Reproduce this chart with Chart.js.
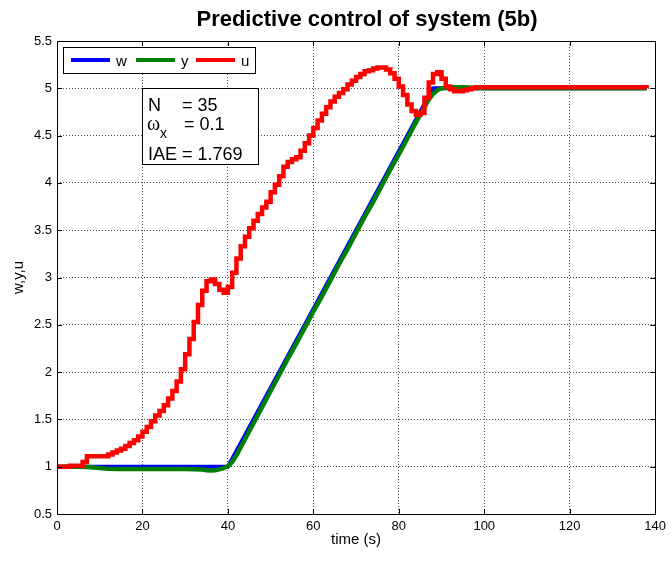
<!DOCTYPE html>
<html>
<head>
<meta charset="utf-8">
<script src="https://cdn.jsdelivr.net/npm/chart.js@4/dist/chart.umd.min.js"></script>
<style>
html,body{margin:0;padding:0;background:#fff;}
#c{display:block;}
</style>
</head>
<body>
<canvas id="c" width="671" height="561"></canvas>
<script>
// ---- data ----
const titleText = 'Predictive control of system (5b)';
const xLabel = 'time (s)';
const yLabel = 'w,y,u';
const seriesNames = ['w', 'y', 'u'];
const xTicks = [0, 20, 40, 60, 80, 100, 120, 140];
const yTicks = [0.5, 1, 1.5, 2, 2.5, 3, 3.5, 4, 4.5, 5, 5.5];

// reference w
const wTime = [0, 40, 88, 138];
const wValue = [1, 1, 5, 5];

// output y
const yTime = [0, 6, 8, 10, 12, 14, 20, 30, 34, 35, 36, 37, 38, 39, 40, 41, 42, 44, 46, 48, 50, 52, 54, 56, 58, 60, 62, 64, 66, 68, 70, 72, 74, 76, 78, 80, 82, 84, 86, 87, 88, 89, 90, 92, 95, 100, 138];
const yValue = [1.0, 1.0, 0.995, 0.985, 0.977, 0.975, 0.975, 0.975, 0.97, 0.963, 0.96, 0.963, 0.972, 0.985, 1.005, 1.05, 1.12, 1.29, 1.46, 1.63, 1.8, 1.97, 2.14, 2.3, 2.47, 2.64, 2.8, 2.97, 3.14, 3.3, 3.47, 3.64, 3.8, 3.97, 4.14, 4.3, 4.47, 4.64, 4.8, 4.88, 4.94, 4.98, 5.0, 5.01, 5.01, 5.0, 5.0];

// control u (stairs)
const uTime = [0, 1, 2, 3, 4, 5, 6, 7, 8, 9, 10, 11, 12, 13, 14, 15, 16, 17, 18, 19, 20, 21, 22, 23, 24, 25, 26, 27, 28, 29, 30, 31, 32, 33, 34, 35, 36, 37, 38, 39, 40, 41, 42, 43, 44, 45, 46, 47, 48, 49, 50, 51, 52, 53, 54, 55, 56, 57, 58, 59, 60, 61, 62, 63, 64, 65, 66, 67, 68, 69, 70, 71, 72, 73, 74, 75, 76, 77, 78, 79, 80, 81, 82, 83, 84, 85, 86, 87, 88, 89, 90, 91, 92, 93, 94, 95, 96, 97, 98, 99, 100, 138];
const uValue = [1.0, 1.0, 1.0, 1.01, 1.01, 1.01, 1.05, 1.11, 1.11, 1.11, 1.11, 1.11, 1.13, 1.15, 1.17, 1.19, 1.22, 1.25, 1.28, 1.32, 1.37, 1.42, 1.48, 1.54, 1.59, 1.65, 1.72, 1.8, 1.9, 2.03, 2.19, 2.35, 2.53, 2.71, 2.86, 2.96, 2.98, 2.93, 2.87, 2.84, 2.9, 3.05, 3.2, 3.33, 3.43, 3.52, 3.6, 3.67, 3.74, 3.8, 3.9, 3.98, 4.07, 4.17, 4.22, 4.25, 4.27, 4.34, 4.42, 4.5, 4.58, 4.66, 4.73, 4.8, 4.86, 4.91, 4.95, 4.99, 5.04, 5.08, 5.12, 5.15, 5.18, 5.19, 5.21, 5.22, 5.22, 5.2, 5.16, 5.1, 5.02, 4.93, 4.83, 4.76, 4.72, 4.74, 4.9, 5.06, 5.15, 5.17, 5.1, 5.02, 4.99, 4.97, 4.97, 4.98, 4.99, 5.0, 5.01, 5.01, 5.01, 5.0];

const annotLines = ['N', '= 35', '\u03C9', 'x', '= 0.1', 'IAE = 1.769'];

// ---- styles ----
const FONT = '"Liberation Sans", Arial, Helvetica, sans-serif';
const SERIF = '"Liberation Serif", "Times New Roman", serif';
const colors = ['#0000ff', '#008000', '#ff0000'];

function pts(ts, vs) { return ts.map((t, i) => ({x: t, y: vs[i]})); }

const decor = {
  id: 'decor',
  afterDatasetsDraw(chart) {
    const {ctx, chartArea: a, scales} = chart;
    ctx.save();
    // box
    ctx.strokeStyle = '#000';
    ctx.lineWidth = 1;
    ctx.strokeRect(Math.round(a.left) + 0.5, Math.round(a.top) + 0.5, Math.round(a.right - a.left) , Math.round(a.bottom - a.top));
    // inward ticks
    const tl = 5;
    ctx.beginPath();
    xTicks.forEach(v => {
      const x = Math.round(scales.x.getPixelForValue(v)) + 0.5;
      ctx.moveTo(x, a.bottom); ctx.lineTo(x, a.bottom - tl);
      ctx.moveTo(x, a.top); ctx.lineTo(x, a.top + tl);
    });
    yTicks.forEach(v => {
      const y = Math.round(scales.y.getPixelForValue(v)) + 0.5;
      ctx.moveTo(a.left, y); ctx.lineTo(a.left + tl, y);
      ctx.moveTo(a.right, y); ctx.lineTo(a.right - tl, y);
    });
    ctx.stroke();

    // legend box
    const lx = 63, ly = 47, lw = 192, lh = 26;
    ctx.fillStyle = '#fff';
    ctx.fillRect(lx, ly, lw, lh);
    ctx.strokeRect(lx + 0.5, ly + 0.5, lw, lh);
    const segs = [[71, 110, 116], [136, 175, 181], [196, 235, 241]];
    ctx.font = '15px ' + FONT;
    ctx.textBaseline = 'alphabetic';
    ctx.textAlign = 'left';
    segs.forEach((s, i) => {
      ctx.strokeStyle = colors[i];
      ctx.lineWidth = 4;
      ctx.beginPath(); ctx.moveTo(s[0], 60); ctx.lineTo(s[1], 60); ctx.stroke();
      ctx.fillStyle = '#000';
      ctx.fillText(chart.data.datasets[i].label, s[2], 66);
    });

    // annotation box
    const bx = 142, by = 88, bw = 116, bh = 76;
    ctx.fillStyle = '#fff';
    ctx.fillRect(bx, by, bw, bh);
    ctx.strokeStyle = '#000'; ctx.lineWidth = 1;
    ctx.strokeRect(bx + 0.5, by + 0.5, bw, bh);
    ctx.fillStyle = '#000';
    ctx.font = '18px ' + FONT;
    ctx.fillText(annotLines[0], 148, 111);
    ctx.fillText(annotLines[1], 182, 111);
    ctx.font = '20px ' + SERIF;
    ctx.fillText(annotLines[2], 147, 130);
    ctx.font = '14px ' + FONT;
    ctx.fillText(annotLines[3], 160, 138);
    ctx.font = '18px ' + FONT;
    ctx.fillText(annotLines[4], 184, 130);
    ctx.fillText(annotLines[5], 148, 160);

    // title
    ctx.font = 'bold 22px ' + FONT;
    ctx.textAlign = 'center';
    ctx.textBaseline = 'middle';
    ctx.fillText(titleText, 367, 20);
    ctx.restore();
  }
};

new Chart(document.getElementById('c'), {
  type: 'line',
  data: {
    datasets: [
      {label: seriesNames[0], data: pts(wTime, wValue), borderColor: colors[0], borderWidth: 4, pointRadius: 0, tension: 0, order: 2, fill: false},
      {label: seriesNames[1], data: pts(yTime, yValue), borderColor: colors[1], borderWidth: 4.5, pointRadius: 0, tension: 0, order: 1, fill: false},
      {label: seriesNames[2], data: pts(uTime, uValue), borderColor: colors[2], borderWidth: 4.5, pointRadius: 0, stepped: true, order: 0, fill: false}
    ]
  },
  options: {
    responsive: false,
    animation: false,
    devicePixelRatio: 1,
    layout: {padding: {left: 0, right: 14, top: 41, bottom: 0}},
    plugins: {legend: {display: false}, title: {display: false}, tooltip: {enabled: false}},
    scales: {
      x: {
        type: 'linear', min: 0, max: 140,
        afterBuildTicks(s) { s.ticks = xTicks.map(v => ({value: v})); },
        afterFit(s) { s.height = 47; },
        ticks: {color: '#000', font: {family: FONT, size: 13}, padding: 5, maxRotation: 0, autoSkip: false, callback: v => String(v)},
        grid: {color: 'rgba(0,0,0,0.7)', lineWidth: 1, drawTicks: false},
        border: {display: false, dash: [1, 2]},
        title: {display: true, text: xLabel, color: '#000', font: {family: FONT, size: 15}, padding: {top: 0, bottom: 12}}
      },
      y: {
        type: 'linear', min: 0.5, max: 5.5,
        afterBuildTicks(s) { s.ticks = yTicks.map(v => ({value: v})); },
        afterFit(s) { s.width = 57; },
        ticks: {color: '#000', font: {family: FONT, size: 13}, padding: 5, autoSkip: false, callback: v => String(v)},
        grid: {color: 'rgba(0,0,0,0.7)', lineWidth: 1, drawTicks: false},
        border: {display: false, dash: [1, 2]},
        title: {display: true, text: yLabel, color: '#000', font: {family: FONT, size: 15}, padding: {top: 10, bottom: 0}}
      }
    }
  },
  plugins: [decor]
});
</script>
</body>
</html>
